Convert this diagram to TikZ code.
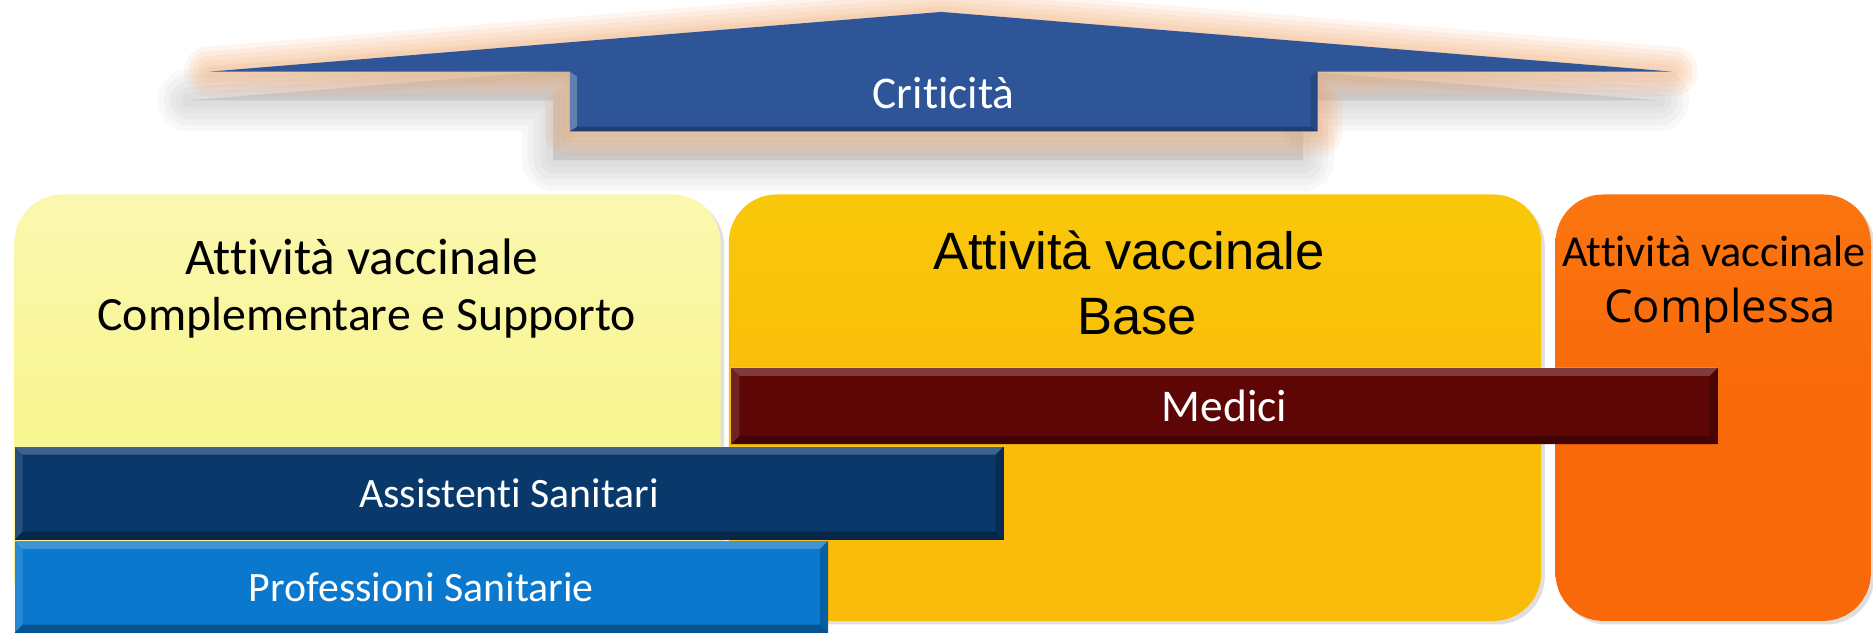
\documentclass[tikz,border=0pt]{standalone}
\usepackage{fontspec}
\setmainfont[Ligatures={NoCommon}]{Carlito}
\newfontfamily\arialf{Liberation Sans}
\newfontfamily\segoef{Open Sans}
\usetikzlibrary{shadows}
\definecolor{bannerblue}{HTML}{2E5597}
\definecolor{glow}{HTML}{F0A060}
\definecolor{lyellow}{HTML}{F8F593}
\definecolor{lyellowtop}{HTML}{FAF8B0}
\definecolor{gold}{HTML}{F9BC0A}
\definecolor{goldtop}{HTML}{F9C80A}
\definecolor{orangebox}{HTML}{F9690A}
\definecolor{orangetop}{HTML}{FA7510}
\definecolor{medred}{HTML}{5E0505}
\definecolor{navy}{HTML}{09386B}
\definecolor{skyblue}{HTML}{0A78CD}
\newcommand\bevelbar[1]{%
 \fill[white,opacity=0.22] (#1.north west) -- (#1.north east) -- ([shift={(-7pt,-7pt)}]#1.north east) -- ([shift={(7pt,-7pt)}]#1.north west) -- cycle;
 \fill[white,opacity=0.12] (#1.north west) -- ([shift={(7pt,-7pt)}]#1.north west) -- ([shift={(7pt,7pt)}]#1.south west) -- (#1.south west) -- cycle;
 \fill[black,opacity=0.30] (#1.south west) -- (#1.south east) -- ([shift={(-7pt,7pt)}]#1.south east) -- ([shift={(7pt,7pt)}]#1.south west) -- cycle;
 \fill[black,opacity=0.20] (#1.north east) -- (#1.south east) -- ([shift={(-7pt,7pt)}]#1.south east) -- ([shift={(-7pt,-7pt)}]#1.north east) -- cycle;
}
\begin{document}
\begin{tikzpicture}[x=1pt,y=1pt,
  boxstyle/.style={rounded corners=40pt, draw=none, anchor=south west, inner sep=0pt,
     drop shadow={shadow xshift=3pt, shadow yshift=-3pt, opacity=0.25}},
  barstyle/.style={draw=none, anchor=south west, inner sep=0pt, text=white},
  bigtxt/.style={font=\fontsize{44}{48}\selectfont, inner sep=0pt},
]
\useasboundingbox (0,0) rectangle (1568,530);

% banner shadow (grey) and glow (orange)
\foreach \w in {52,42,32,22,12} {
  \draw[line width=\w pt, gray, opacity=0.06, line join=round, fill=gray, fill opacity=0.05]
    (158,446) -- (776,496) -- (1388,446) -- (1091,446) -- (1091,396) -- (463,396) -- (463,446) -- cycle;
}
\foreach \w in {42,34,26,18,10} {
  \draw[line width=\w pt, glow, opacity=0.11, line join=round]
    (175,470) -- (788,520) -- (1400,470) -- (1103,470) -- (1103,420) -- (477,420) -- (477,470) -- cycle;
}
\fill[bannerblue] (175,470) -- (788,520) -- (1400,470) -- (1103,470) -- (1103,420) -- (477,420) -- (477,470) -- cycle;
\fill[white,opacity=0.25] (477,470) -- (483,466) -- (483,424) -- (477,420) -- cycle;
\fill[black,opacity=0.25] (477,420) -- (1103,420) -- (1097,424) -- (483,424) -- cycle;
\fill[black,opacity=0.15] (1103,470) -- (1103,420) -- (1097,424) -- (1097,466) -- cycle;
\node[text=white, font=\fontsize{38}{40}\selectfont] (crit) at (790,452) {Criticità};

% big boxes
\node[boxstyle, minimum width=591pt, minimum height=362pt,
      top color=lyellowtop, bottom color=lyellow, middle color=lyellow] (yb) at (12,5) {};
\node[boxstyle, minimum width=680pt, minimum height=357pt,
      top color=goldtop, bottom color=gold, middle color=gold] (gb) at (610,10) {};
\node[boxstyle, minimum width=264pt, minimum height=357pt,
      top color=orangetop, bottom color=orangebox, middle color=orangebox] (ob) at (1302,10) {};

% box titles
\node[font=\fontsize{43}{46}\selectfont, inner sep=0pt] (yt1) at (303,315) {Attività vaccinale};
\node[font=\fontsize{40}{44}\selectfont, inner sep=0pt] (yt2) at (307,264) {Complementare e Supporto};
\node[bigtxt, font=\arialf\fontsize{44}{48}\selectfont] (gt1) at (945,320) {Attività vaccinale};
\node[bigtxt, font=\arialf\fontsize{44}{48}\selectfont] (gt2) at (952,265) {Base};
\node[font=\fontsize{37}{40}\selectfont, inner sep=0pt] (ot1) at (1435,320) {Attività vaccinale};
\node[font=\segoef\fontsize{38}{40}\selectfont, inner sep=0pt] (ot2) at (1440,270) {Complessa};

% bars
\node[barstyle, fill=medred, minimum width=826pt, minimum height=64pt,
      font=\fontsize{38}{40}\selectfont] (med) at (612,158) {Medici};
\bevelbar{med}
\node[barstyle, fill=navy, minimum width=828pt, minimum height=78pt,
      font=\fontsize{35}{38}\selectfont] (ass) at (12,78) {Assistenti Sanitari};
\bevelbar{ass}
\node[barstyle, fill=skyblue, minimum width=681pt, minimum height=77pt,
      font=\fontsize{35}{38}\selectfont] (pro) at (12,0) {Professioni Sanitarie};
\bevelbar{pro}
\end{tikzpicture}
\end{document}
